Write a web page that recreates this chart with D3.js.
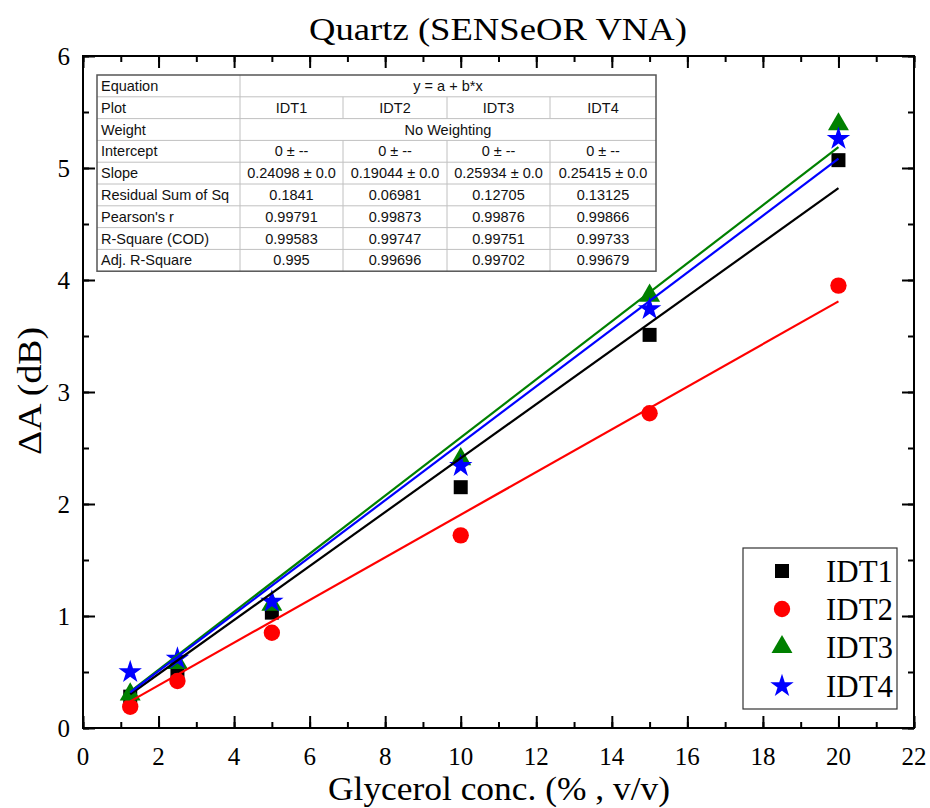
<!DOCTYPE html>
<html><head><meta charset="utf-8">
<script src="https://cdn.jsdelivr.net/npm/d3@7"></script>
<style>body{margin:0;background:#fff}svg{display:block}
.serif{font-family:"Liberation Serif","Times New Roman",Times,serif}
.sans{font-family:"Liberation Sans",Arial,Helvetica,sans-serif}
</style>
</head><body>
<script>
// ---- data ----
const concentrations = [1.25, 2.5, 5, 10, 15, 20];
const idt1 = [0.28, 0.47, 1.03, 2.15, 3.51, 5.07];
const idt2 = [0.19, 0.42, 0.85, 1.72, 2.81, 3.95];
const idt3 = [0.30, 0.58, 1.10, 2.40, 3.86, 5.39];
const idt4 = [0.50, 0.62, 1.13, 2.34, 3.74, 5.26];
const seriesNames = ["IDT1", "IDT2", "IDT3", "IDT4"];
const slopes = [0.24098, 0.19044, 0.25934, 0.25415];
const xTicks = [0, 2, 4, 6, 8, 10, 12, 14, 16, 18, 20, 22];
const yTicks = [0, 1, 2, 3, 4, 5, 6];
const tableLabels = ["Equation", "Plot", "Weight", "Intercept", "Slope", "Residual Sum of Sq", "Pearson's r", "R-Square (COD)", "Adj. R-Square"];
const tableRows = [
  ["y = a + b*x"],
  ["IDT1", "IDT2", "IDT3", "IDT4"],
  ["No Weighting"],
  ["0 ± --", "0 ± --", "0 ± --", "0 ± --"],
  ["0.24098 ± 0.0", "0.19044 ± 0.0", "0.25934 ± 0.0", "0.25415 ± 0.0"],
  ["0.1841", "0.06981", "0.12705", "0.13125"],
  ["0.99791", "0.99873", "0.99876", "0.99866"],
  ["0.99583", "0.99747", "0.99751", "0.99733"],
  ["0.995", "0.99696", "0.99702", "0.99679"]
];

// ---- layout ----
const W = 930, H = 808;
const L = 83, R = 914, T = 56, B = 728;
const colors = ["#000000", "#ff0000", "#008000", "#0000ff"];
const symbols = [d3.symbolSquare, d3.symbolCircle, d3.symbolTriangle, d3.symbolStar];
const symSizes = [196, 210, 190, 170];
const allSeries = [idt1, idt2, idt3, idt4];

const svg = d3.select("body").append("svg").attr("width", W).attr("height", H);
const x = d3.scaleLinear().domain([0, 22]).range([L, R]);
const y = d3.scaleLinear().domain([0, 6]).range([B, T]);

// axes (ticks inward)
const xMinor = d3.range(0, 22.01, 1);
const yMinor = d3.range(0, 6.01, 0.5);
function axisLines(g, axisGen) { g.call(axisGen); g.select(".domain").remove(); g.selectAll("line").attr("stroke", "#000").attr("stroke-width", 2); }
svg.append("g").attr("transform", `translate(0,${B})`).call(g => axisLines(g, d3.axisTop(x).tickValues(xMinor).tickSize(6).tickFormat("")));
svg.append("g").attr("transform", `translate(0,${B})`).call(g => axisLines(g, d3.axisTop(x).tickValues(xTicks).tickSize(12).tickFormat("")));
svg.append("g").attr("transform", `translate(0,${T})`).call(g => axisLines(g, d3.axisBottom(x).tickValues(xMinor).tickSize(6).tickFormat("")));
svg.append("g").attr("transform", `translate(0,${T})`).call(g => axisLines(g, d3.axisBottom(x).tickValues(xTicks).tickSize(12).tickFormat("")));
svg.append("g").attr("transform", `translate(${L},0)`).call(g => axisLines(g, d3.axisRight(y).tickValues(yMinor).tickSize(6).tickFormat("")));
svg.append("g").attr("transform", `translate(${L},0)`).call(g => axisLines(g, d3.axisRight(y).tickValues(yTicks).tickSize(12).tickFormat("")));
svg.append("g").attr("transform", `translate(${R},0)`).call(g => axisLines(g, d3.axisLeft(y).tickValues(yMinor).tickSize(6).tickFormat("")));
svg.append("g").attr("transform", `translate(${R},0)`).call(g => axisLines(g, d3.axisLeft(y).tickValues(yTicks).tickSize(12).tickFormat("")));
svg.append("rect").attr("x", L).attr("y", T).attr("width", R - L).attr("height", B - T)
  .attr("fill", "none").attr("stroke", "#000").attr("stroke-width", 2);

// tick labels
svg.append("g").attr("class", "serif").selectAll("text").data(xTicks).join("text")
  .attr("x", d => x(d)).attr("y", B + 37).attr("text-anchor", "middle")
  .attr("font-size", 25).text(d => d);
svg.append("g").attr("class", "serif").selectAll("text").data(yTicks).join("text")
  .attr("x", L - 13).attr("y", d => y(d) + 8.5).attr("text-anchor", "end")
  .attr("font-size", 25).text(d => d);

// titles
svg.append("text").attr("class", "serif").attr("x", 498).attr("y", 40).attr("text-anchor", "middle")
  .attr("font-size", 31).attr("textLength", 378).attr("lengthAdjust", "spacingAndGlyphs")
  .text("Quartz (SENSeOR VNA)");
svg.append("text").attr("class", "serif").attr("x", 499).attr("y", 800).attr("text-anchor", "middle")
  .attr("font-size", 33).attr("textLength", 342).attr("lengthAdjust", "spacingAndGlyphs")
  .text("Glycerol conc. (% , v/v)");
svg.append("text").attr("class", "serif").attr("transform", "translate(41,391) rotate(-90)").attr("text-anchor", "middle")
  .attr("font-size", 33)
  .attr("textLength", 128).attr("lengthAdjust", "spacingAndGlyphs")
  .text("ΔA (dB)");

// points
allSeries.forEach((vals, i) => {
  svg.append("g").selectAll("path").data(vals).join("path")
    .attr("d", d3.symbol().type(symbols[i]).size(symSizes[i]))
    .attr("transform", (d, j) => `translate(${x(concentrations[j])},${y(d)})`)
    .attr("fill", colors[i]);
});

// fit lines (y = b*x)
const xMin = d3.min(concentrations), xMax = d3.max(concentrations);
const line = d3.line().x(d => x(d[0])).y(d => y(d[1]));
slopes.forEach((b, i) => {
  svg.append("path").attr("d", line([[xMin, b * xMin], [xMax, b * xMax]]))
    .attr("stroke", colors[i]).attr("stroke-width", 2.2).attr("fill", "none");
});

// table
const colX = [97, 240, 343, 447, 550, 656];
const rowT = 75, rowH = 21.8;
const tg = svg.append("g").attr("class", "sans").attr("font-size", 14.5).attr("fill", "#111");
tg.append("rect").attr("x", colX[0]).attr("y", rowT).attr("width", colX[5] - colX[0]).attr("height", rowH * 9).attr("fill", "#fff");
tableLabels.forEach((lab, r) => {
  const yy = rowT + r * rowH;
  if (r > 0) tg.append("line").attr("x1", colX[0]).attr("x2", colX[5]).attr("y1", yy).attr("y2", yy).attr("stroke", "#c0c0c0");
  tg.append("text").attr("x", colX[0] + 4).attr("y", yy + rowH / 2 + 5).text(lab);
  const cells = tableRows[r];
  if (cells.length === 1) {
    tg.append("text").attr("x", (colX[1] + colX[5]) / 2).attr("y", yy + rowH / 2 + 5).attr("text-anchor", "middle").text(cells[0]);
  } else {
    cells.forEach((c, k) => {
      tg.append("text").attr("x", (colX[k + 1] + colX[k + 2]) / 2).attr("y", yy + rowH / 2 + 5).attr("text-anchor", "middle").text(c);
      if (k > 0) tg.append("line").attr("x1", colX[k + 1]).attr("x2", colX[k + 1]).attr("y1", yy).attr("y2", yy + rowH).attr("stroke", "#c0c0c0");
    });
  }
});
tg.append("line").attr("x1", colX[1]).attr("x2", colX[1]).attr("y1", rowT).attr("y2", rowT + 9 * rowH).attr("stroke", "#c0c0c0");
tg.append("rect").attr("x", colX[0]).attr("y", rowT).attr("width", colX[5] - colX[0]).attr("height", rowH * 9)
  .attr("fill", "none").attr("stroke", "#555").attr("stroke-width", 1.5);

// legend
const lg = svg.append("g");
lg.append("rect").attr("x", 743).attr("y", 548).attr("width", 154).attr("height", 161)
  .attr("fill", "#fff").attr("stroke", "#333").attr("stroke-width", 1.2);
const legY = [571, 609, 647, 686];
seriesNames.forEach((n, i) => {
  lg.append("path").attr("d", d3.symbol().type(symbols[i]).size(symSizes[i])())
    .attr("transform", `translate(782,${legY[i]})`).attr("fill", colors[i]);
  lg.append("text").attr("class", "serif").attr("x", 826).attr("y", legY[i] + 11).attr("font-size", 32)
    .attr("textLength", 67).attr("lengthAdjust", "spacingAndGlyphs").text(n);
});
</script>
</body></html>
